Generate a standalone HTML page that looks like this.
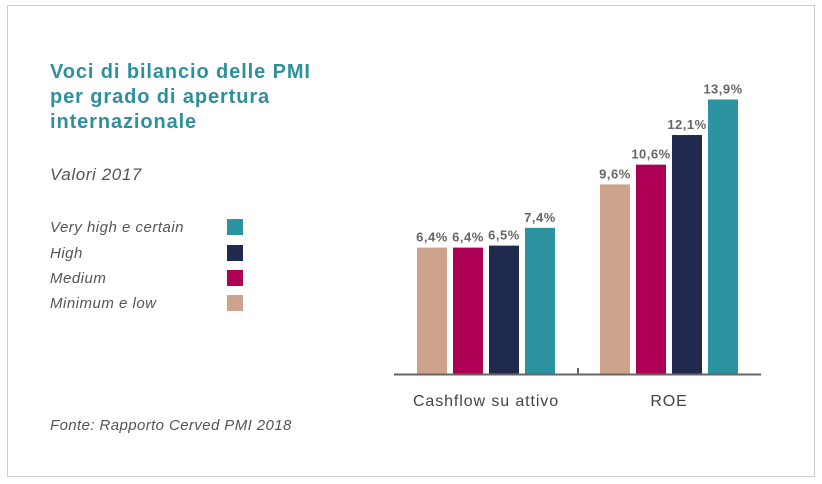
<!DOCTYPE html>
<html><head><meta charset="utf-8"><style>
body{margin:0;background:#fff;font-family:"Liberation Sans",sans-serif;}
#wrap{position:relative;width:822px;height:484px;overflow:hidden;}
#frame{position:absolute;left:7px;top:5px;width:806px;height:470px;border:1px solid #cfcfcf;}
.t{position:absolute;white-space:nowrap;}
</style></head><body>
<div id="wrap">
<div id="frame"></div>
<div class="t" style="left:50px;top:60px;font-size:20px;letter-spacing:0.9px;font-weight:bold;color:#2e909d;line-height:25px;">Voci di bilancio delle PMI<br>per grado di apertura<br>internazionale</div>
<div class="t" style="left:50px;top:165px;font-size:17px;letter-spacing:0.6px;font-style:italic;color:#555;">Valori 2017</div>
<div class="t" style="left:50px;top:417px;font-size:15px;letter-spacing:0.4px;font-style:italic;color:#555;">Fonte: Rapporto Cerved PMI 2018</div>
<svg id="chart" width="822" height="484" style="position:absolute;left:0;top:0"></svg>
</div>
<script>
const categories=["Cashflow su attivo","ROE"];
const seriesNames=["Minimum e low","Medium","High","Very high e certain"];
const seriesColors=["#cda48b","#ad0055","#1f2a4e","#2e93a0"];
const minLow=[6.4,9.6];
const medium=[6.4,10.6];
const high=[6.5,12.1];
const veryHigh=[7.4,13.9];
const valueLabels=[["6,4%","9,6%"],["6,4%","10,6%"],["6,5%","12,1%"],["7,4%","13,9%"]];
const series=[minLow,medium,high,veryHigh];
const svg=document.getElementById('chart');
const NS='http://www.w3.org/2000/svg';
const baseY=374,pxPer=19.75;
const y=v=>baseY-v*pxPer;
const groupStart=[417,600],barW=30,step=36;
const x=(c,s)=>groupStart[c]+s*step;
function mk(t,a){const e=document.createElementNS(NS,t);for(const k in a)e.setAttribute(k,a[k]);svg.appendChild(e);return e;}
categories.forEach((cat,c)=>{
  series.forEach((arr,s)=>{
    const r=mk('rect',{x:x(c,s),y:y(arr[c]),width:barW,height:baseY-y(arr[c]),fill:seriesColors[s]});
    
    
    const tx=mk('text',{x:x(c,s)+barW/2,y:y(arr[c])-6,'text-anchor':'middle','font-size':13,'letter-spacing':0.5,'font-weight':'bold',fill:'#666','font-family':'Liberation Sans, sans-serif'});
    tx.textContent=valueLabels[s][c];
    
    
  });
  const cx=x(c,0)+(3*step+barW)/2;
  const lb=mk('text',{x:cx,y:406,'text-anchor':'middle','font-size':16,'letter-spacing':0.9,fill:'#444','font-family':'Liberation Sans, sans-serif'});
  lb.textContent=cat;
  
  
});
const ax=mk('line',{x1:394,y1:baseY+0.5,x2:761,y2:baseY+0.5,stroke:'#666','stroke-width':2});


const tk=mk('line',{x1:578,y1:baseY-6,x2:578,y2:baseY,stroke:'#666','stroke-width':2});


const legOrder=[3,2,1,0],legY=[227,253,278,303];
legOrder.forEach((s,i)=>{
  const t=mk('text',{x:50,y:legY[i]+5,'font-size':15,'letter-spacing':0.5,'font-style':'italic',fill:'#555','font-family':'Liberation Sans, sans-serif'});
  t.textContent=seriesNames[s];
  
  
  const r=mk('rect',{x:227,y:legY[i]-8,width:16,height:16,fill:seriesColors[s]});
  
  
});
</script>
</body></html>
